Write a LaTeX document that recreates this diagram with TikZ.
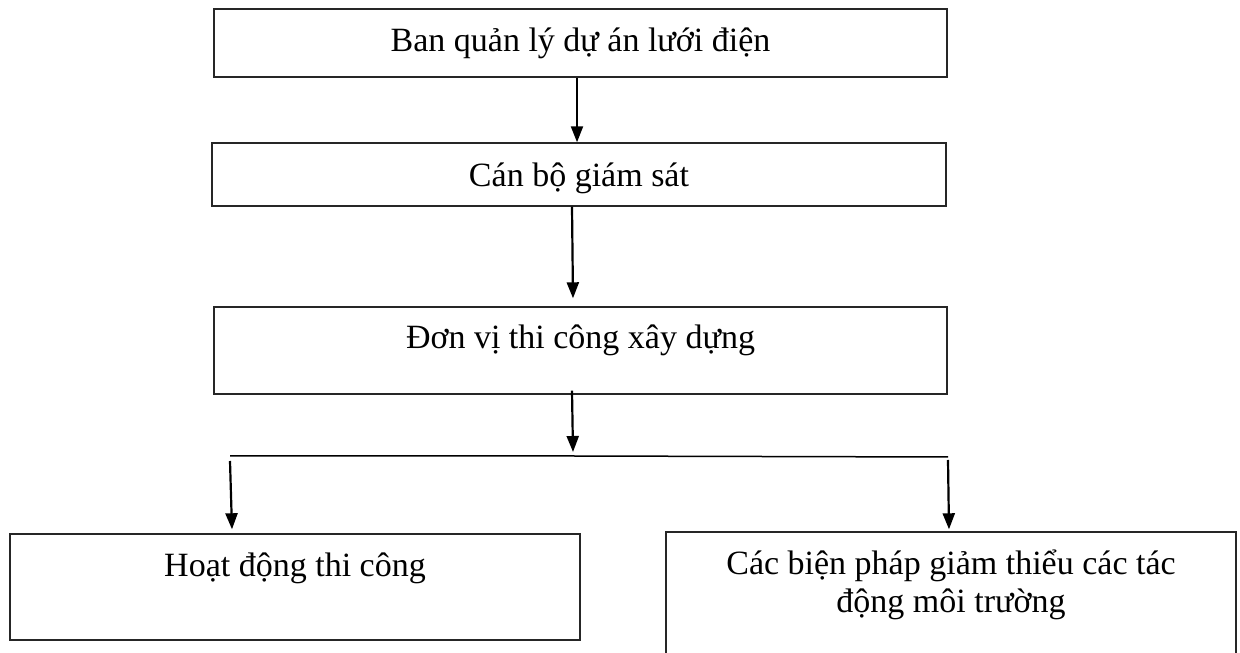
\documentclass[tikz,border=0pt]{standalone}
\usepackage{fontspec}
\setmainfont{Liberation Serif}
\usetikzlibrary{arrows.meta}
\tikzset{
  box/.style={draw=black!85, line width=1.4pt, rectangle, inner sep=0pt},
  lbl/.style={anchor=base, inner sep=0pt, font=\fontsize{34}{38}\selectfont, align=center},
  arr/.style={line width=2.2pt, -{Triangle[length=16pt,width=12pt]}},
  hline/.style={line width=1.5pt}
}
\begin{document}
\begin{tikzpicture}[x=1pt,y=1pt]
\useasboundingbox (0,0) rectangle (1240,653);
% boxes
\node[box, minimum width=733pt, minimum height=68pt] (b1) at (580.5,610) {};
\node[box, minimum width=734pt, minimum height=63pt] (b2) at (579,478.5) {};
\node[box, minimum width=733pt, minimum height=87pt] (b3) at (580.5,302.5) {};
\node[box, minimum width=570pt, minimum height=106pt] (b4) at (295,66) {};
\node[box, minimum width=570pt, minimum height=131pt] (b5) at (951,55.5) {};
% texts
\node[lbl] (t1) at ([yshift=-43pt]b1.north) {Ban quản lý dự án lưới điện};
\node[lbl] (t2) at ([yshift=-44pt]b2.north) {Cán bộ giám sát};
\node[lbl] (t3) at ([yshift=-42pt]b3.north) {Đơn vị thi công xây dựng};
\node[lbl] (t4) at ([yshift=-43pt]b4.north) {Hoạt động thi công};
\node[lbl] (t5) at ([yshift=-43pt]b5.north) {Các biện pháp giảm thiểu các tác};
\node[lbl] (t6) at ([yshift=-81pt]b5.north) {động môi trường};
% branch line
\coordinate (hl) at (230,197);
\coordinate (hm) at (573,197);
\coordinate (hr) at (948,196);
\draw[hline] (hl) -- (hm) -- (hr);
% arrows
\draw[arr] ([xshift=-3.5pt]b1.south) -- ([xshift=-2pt]b2.north);
\draw[arr] ([xshift=-7pt]b2.south) -- ([xshift=-7.5pt,yshift=8pt]b3.north);
\draw[arr] ([xshift=-8.5pt,yshift=4pt]b3.south) -- ([yshift=4pt]hm);
\draw[arr] ([yshift=-5pt]hl) -- ([xshift=-63pt,yshift=4pt]b4.north);
\draw[arr] ([yshift=-3pt]hr) -- ([xshift=-2pt,yshift=2pt]b5.north);
\end{tikzpicture}
\end{document}
